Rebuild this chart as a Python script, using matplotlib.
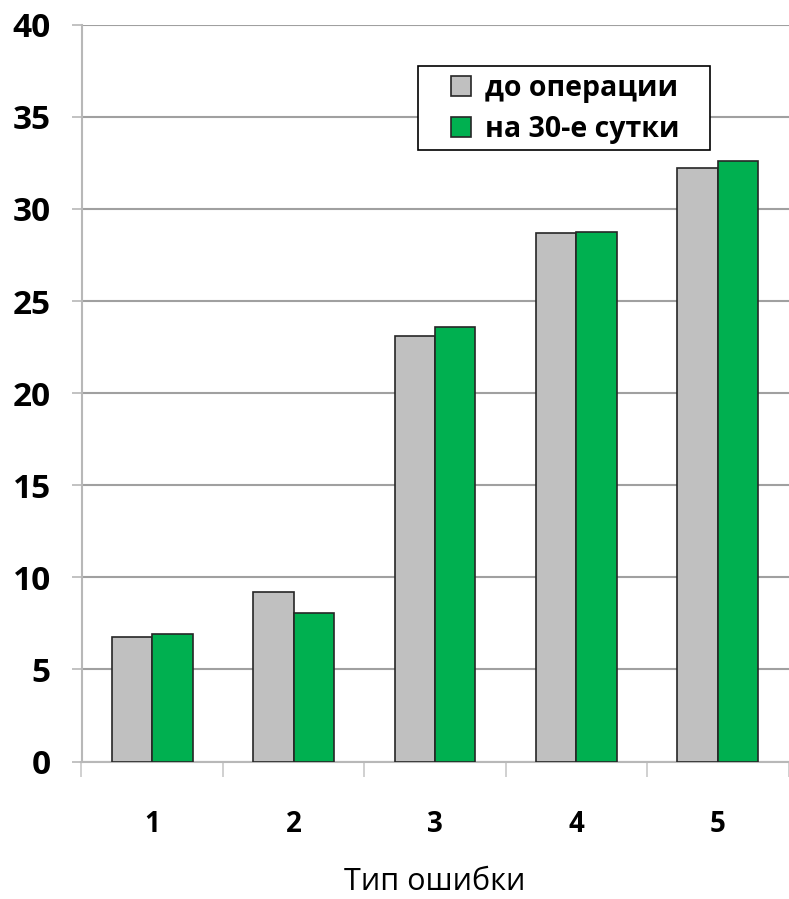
import matplotlib
matplotlib.use("Agg")
import matplotlib.pyplot as plt
import numpy as np
from matplotlib.patches import Patch, Rectangle

# Error types and the mean values before surgery and on day 30
categories = ["1", "2", "3", "4", "5"]
before_surgery = [6.78, 9.19, 23.1, 28.71, 32.21]
day_30 = [6.91, 8.08, 23.61, 28.77, 32.59]
series_labels = ["до операции", "на 30-е сутки"]
y_ticks = [0, 5, 10, 15, 20, 25, 30, 35, 40]

FONT = ["Open Sans", "DejaVu Sans"]
plt.rcParams["font.family"] = FONT

W, H = 789, 899
fig = plt.figure(figsize=(W / 100, H / 100), dpi=100)
ax = fig.add_axes([81.5 / W, 1 - 761.6 / H, 707 / W, (761.6 - 24.7) / H])

x = np.arange(len(categories))
width = 1 / 3.5
gray = "#c0c0c0"
green = "#00b050"
edge = "#262626"

ax.bar(x - width / 2, before_surgery, width, color=gray, edgecolor=edge, linewidth=1.2, zorder=3)
ax.bar(x + width / 2, day_30, width, color=green, edgecolor=edge, linewidth=1.2, zorder=3)

ax.set_xlim(-0.5, len(categories) - 0.5)
ax.set_ylim(0, 40)

ax.set_yticks(y_ticks)
ax.set_yticklabels([str(v) for v in y_ticks], fontsize=24, fontweight="bold")
ax.yaxis.grid(True, color="#a0a0a0", linewidth=1.5, zorder=0)
ax.tick_params(axis="y", length=7, width=1.2, color="#b8b8b8", pad=15)

ax.set_xticks(x)
ax.set_xticklabels(categories, fontsize=20, fontweight="bold")
ax.set_xticks(np.arange(len(categories) + 1) - 0.5, minor=True)
ax.tick_params(axis="x", which="major", length=0, pad=35)
ax.tick_params(axis="x", which="minor", length=11, width=1.2, color="#c8c8c8")

ax.set_xlabel("Тип ошибки", fontsize=22, labelpad=20)

for side in ("top", "right"):
    ax.spines[side].set_visible(False)
for side in ("left", "bottom"):
    ax.spines[side].set_color("#b8b8b8")
    ax.spines[side].set_linewidth(1.5)

# Legend box drawn as a separate frame so the padding can differ per side
frame = Rectangle((418 / W, 1 - 150 / H), (710 - 418) / W, (150 - 66) / H,
                  transform=fig.transFigure, facecolor="white",
                  edgecolor="#000000", linewidth=1.2, zorder=4)
fig.patches.append(frame)

handles = [Patch(facecolor=gray, edgecolor=edge, linewidth=1.2),
           Patch(facecolor=green, edgecolor=edge, linewidth=1.2)]
leg = fig.legend(handles, series_labels, loc="upper left",
                 bbox_to_anchor=(451 / W, 1 - 74 / H),
                 prop={"family": FONT, "weight": "bold", "size": 20.5},
                 frameon=False,
                 handlelength=0.7, handleheight=0.7, handletextpad=0.5,
                 borderpad=0, labelspacing=0.42, borderaxespad=0)
leg.set_zorder(5)

fig.savefig("out.png", dpi=100, facecolor="white")
